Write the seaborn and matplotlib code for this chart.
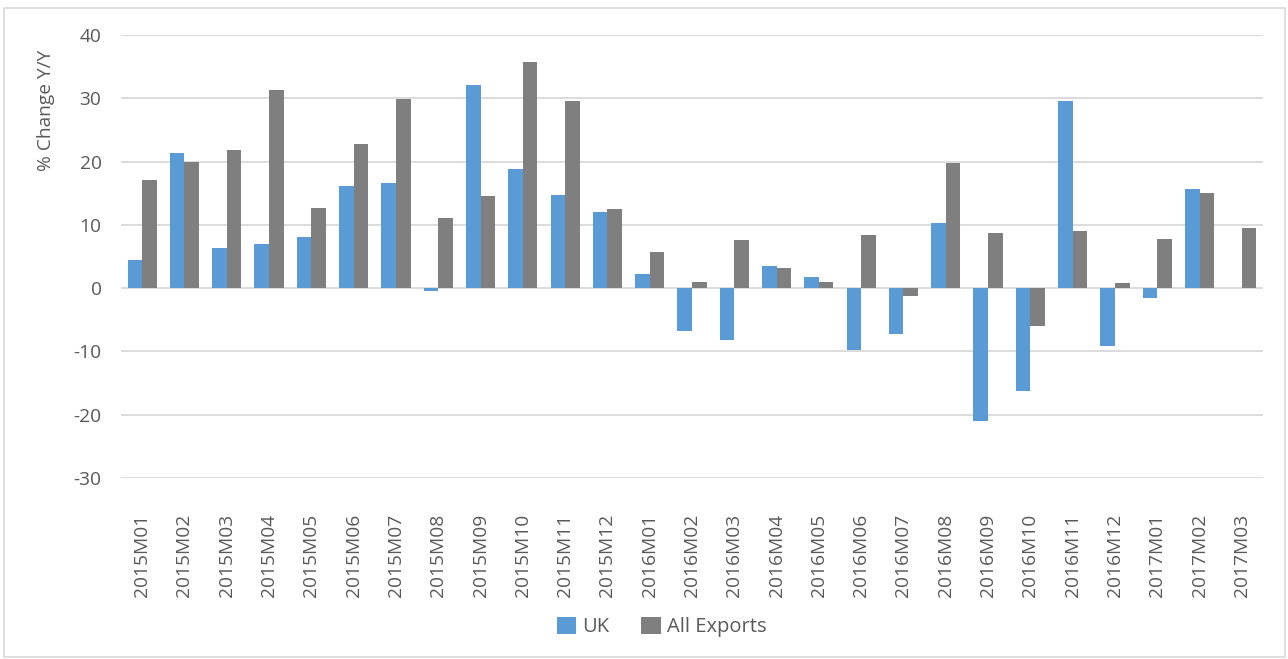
import matplotlib
matplotlib.use("Agg")
import matplotlib.pyplot as plt
import seaborn as sns
import pandas as pd
from matplotlib.patches import Rectangle

months = ["2015M01", "2015M02", "2015M03", "2015M04", "2015M05", "2015M06",
          "2015M07", "2015M08", "2015M09", "2015M10", "2015M11", "2015M12",
          "2016M01", "2016M02", "2016M03", "2016M04", "2016M05", "2016M06",
          "2016M07", "2016M08", "2016M09", "2016M10", "2016M11", "2016M12",
          "2017M01", "2017M02", "2017M03"]
uk = [4.4, 21.3, 6.3, 7.0, 8.1, 16.1, 16.6, -0.5, 32.1, 18.8, 14.7, 12.0,
      2.2, -6.8, -8.2, 3.5, 1.7, -9.8, -7.2, 10.3, -21.0, -16.3, 29.6, -9.2,
      -1.5, 15.6, 0.1]
all_exports = [17.1, 20.0, 21.8, 31.3, 12.6, 22.8, 29.9, 11.1, 14.5, 35.7, 29.6, 12.5,
               5.7, 1.0, 7.6, 3.2, 1.0, 8.4, -1.2, 19.8, 8.7, -6.0, 9.0, 0.8,
               7.8, 15.0, 9.5]
series_names = ["UK", "All Exports"]
colors = ["#5B9BD5", "#7F7F7F"]

df = pd.DataFrame({
    "month": months * 2,
    "value": uk + all_exports,
    "series": [series_names[0]] * len(months) + [series_names[1]] * len(months),
})

sns.set_theme(style="white")
plt.rcParams["font.family"] = ["Open Sans", "DejaVu Sans"]
plt.rcParams["axes.unicode_minus"] = False
text_color = "#595959"

fig = plt.figure(figsize=(12.88, 6.59), dpi=100)
ax = fig.add_axes([121 / 1288, 1 - 478 / 659, (1263 - 121) / 1288, (478 - 35) / 659])

sns.barplot(data=df, x="month", y="value", hue="series", palette=colors,
            width=0.69, ax=ax, saturation=1, edgecolor="none", legend=True)

ax.set_ylim(-30, 40)
ax.set_yticks(range(-30, 41, 10))
ax.set_xlim(-0.5, 26.5)
ax.yaxis.grid(True, color="#D9D9D9", linewidth=1.3)
ax.set_axisbelow(True)
for s in ax.spines.values():
    s.set_visible(False)
ax.tick_params(axis="both", length=0, labelsize=13.8, labelcolor=text_color)
ax.tick_params(axis="x", pad=26)
ax.tick_params(axis="y", pad=14)
plt.setp(ax.get_xticklabels(), rotation=90, va="top", ha="center")
ax.set_xlabel("")
ax.set_ylabel("% Change Y/Y", fontsize=13.8, color=text_color)
ax.yaxis.set_label_coords(-0.0578, 0.83)

handles, labels = ax.get_legend_handles_labels()
ax.legend(handles, labels, loc="center", bbox_to_anchor=(0.4733, (478 - 627) / 443),
          ncol=2, frameon=False, fontsize=14.5, labelcolor=text_color,
          handlelength=0.95, handleheight=0.95, handletextpad=0.3, columnspacing=1.6)

fig.patches.append(Rectangle((4 / 1288, 2 / 659), 1281 / 1288, 649 / 659,
                             transform=fig.transFigure, fill=False,
                             edgecolor="#D9D9D9", linewidth=1.2))

fig.savefig("out.png", dpi=100)
